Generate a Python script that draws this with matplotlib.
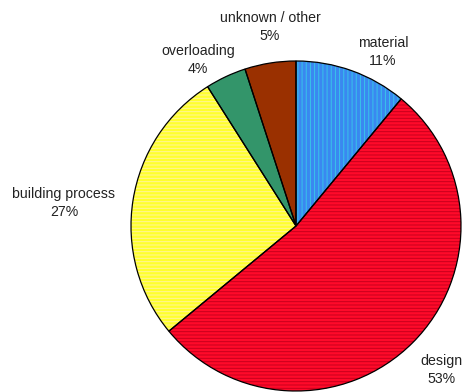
import matplotlib.pyplot as plt

# causes of structural failure (share in %)
causes = ["material", "design", "building process", "overloading", "unknown / other"]
shares = [11, 53, 27, 4, 5]
colors = ["#3a88f0", "#ff0a2a", "#ffff2e", "#33956a", "#9a3000"]
stripe_colors = ["#38c4ea", "#c8001c", "#fff59a", "#33956a", "#9a3000"]
hatches = ["||||", "-----", "-----", None, None]

# label anchor points in pixel coords (y measured from top)
label_pos = [(383, 52), (441, 370), (64, 203), (198, 60), (270, 27)]

plt.rcParams["hatch.linewidth"] = 0.7

fig = plt.figure(figsize=(4.63, 3.92), dpi=100)
ax = fig.add_axes([0, 0, 1, 1])

center = (296, 392 - 226)
radius = 165

# plain fills
under, _ = ax.pie(shares, colors=colors, startangle=90, counterclock=False,
                  center=center, radius=radius, frame=True,
                  wedgeprops=dict(linewidth=0))
# stripe texture on top of the fills
over, _ = ax.pie(shares, colors=["none"] * len(shares), startangle=90, counterclock=False,
                 center=center, radius=radius, frame=True)
for w, h, c in zip(over, hatches, stripe_colors):
    w.set_hatch(h)
    w.set_edgecolor(c)
    w.set_linewidth(0)
    w.set_zorder(2)
# black outlines last
outline, _ = ax.pie(shares, colors=["none"] * len(shares), startangle=90, counterclock=False,
                    center=center, radius=radius, frame=True,
                    wedgeprops=dict(edgecolor="black", linewidth=0.9))
for w in outline:
    w.set_zorder(3)

ax.set_xlim(0, 463)
ax.set_ylim(0, 392)
ax.set_aspect("equal")
ax.axis("off")

for name, val, (x, y) in zip(causes, shares, label_pos):
    ax.text(x, 392 - y, f"{name}\n{val}%", ha="center", va="center",
            fontsize=10.2, family="Liberation Sans", color="#222222", linespacing=1.35)

plt.savefig("out.png", dpi=100)
